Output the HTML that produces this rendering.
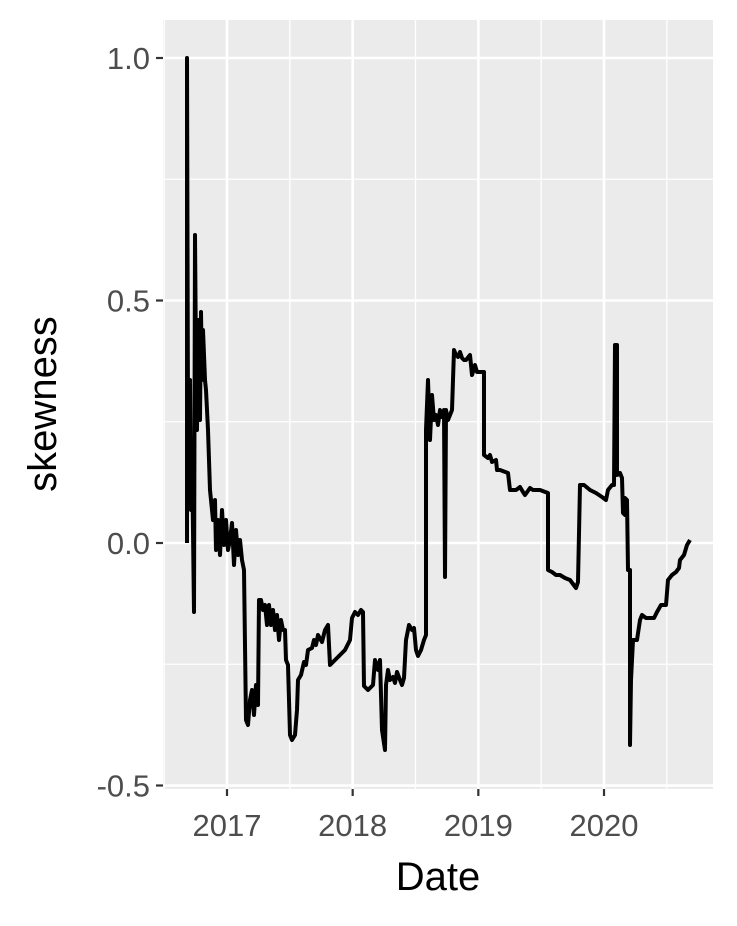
<!DOCTYPE html>
<html><head><meta charset="utf-8"><style>
body{margin:0;background:#fff;}
svg text{font-family:"Liberation Sans",Arial,sans-serif;}
</style></head><body>
<svg id="chart" width="737" height="921" viewBox="0 0 737 921" xmlns="http://www.w3.org/2000/svg">
<rect x="163" y="20" width="550" height="769" fill="#ebebeb"/>
<g id="grid"></g>
<g id="axes"></g>
<path id="line" fill="none" stroke="#000" stroke-width="4" stroke-linejoin="round"/>
<text x="438" y="890" font-size="40" text-anchor="middle" fill="#000">Date</text>
<text transform="translate(56,404) rotate(-90)" font-size="40" text-anchor="middle" fill="#000">skewness</text>
</svg>
<script>
const yTicks=[1.0,0.5,0.0,-0.5];
const yTickLabels=["1.0","0.5","0.0","-0.5"];
const xTicks=[2017,2018,2019,2020];
const xTickLabels=["2017","2018","2019","2020"];
const px=[187,187,188,189,190,191,192,194,195,196,197,198,199,200,201,202,203,205,206,208,210,211,213,215,216,218,220,222,224,226,228,230,232,234,236,238,240,242,244,246,248,250,252,254,256,258,259,261,263,265,267,269,271,273,275,277,279,281,283,285,286,288,290,292,295,297,298,301,304,306,308,312,314,316,318,322,325,328,330,335,340,345,350,352,355,358,361,363,364,368,370,373,375,378,380,382,385,386,388,390,393,395,397,400,402,404,406,409,412,414,416,418,421,424,426,426,428,430,432,434,436,438,440,442,444,445,446,448,450,452,454,456,458,460,462,464,466,470,472,475,477,484,484,488,490,492,496,497,500,508,510,516,520,523,525,530,533,540,548,548,552,556,560,565,570,576,578,580,584,590,596,602,606,608,612,614,615,617,617,620,622,623,625,625,627,628,630,630,631,633,637,640,642,646,654,657,661,666,668,672,676,679,680,684,687,690];
const py=[543,58,420,500,380,510,450,612,235,360,430,320,340,420,312,380,330,380,390,430,490,500,520,500,550,520,555,510,545,520,550,540,523,565,530,555,540,560,570,720,725,700,690,715,685,705,600,600,610,605,625,605,625,610,630,615,640,620,630,630,660,665,735,740,735,710,680,675,662,665,650,648,640,645,635,642,630,625,665,660,655,650,640,618,612,615,610,612,686,690,688,685,660,670,660,730,750,685,670,680,677,683,672,680,685,678,640,625,630,628,650,656,650,640,635,430,380,440,395,420,415,425,410,417,410,577,410,420,415,410,350,355,357,352,358,360,360,355,375,365,372,372,455,458,455,462,460,470,470,473,490,490,487,492,495,488,490,490,493,570,572,575,575,578,580,588,582,485,485,490,493,497,500,490,485,485,345,345,475,473,478,513,515,498,500,570,570,745,680,640,640,620,615,618,618,612,605,605,580,575,572,568,560,555,545,540];
const dates=px.map(x=>+(2017+(x-227)/125.67).toFixed(4));
const values=py.map(y=>+((543-y)/485).toFixed(4));
const X=d=>227+(d-2017)*125.67;
const Y=v=>543-v*485;
const ns="http://www.w3.org/2000/svg";
const grid=document.getElementById('grid'),axes=document.getElementById('axes');
function ln(g,x1,y1,x2,y2,c,w,name){const l=document.createElementNS(ns,'line');
l.setAttribute('x1',x1);l.setAttribute('y1',y1);l.setAttribute('x2',x2);l.setAttribute('y2',y2);
l.setAttribute('stroke',c);l.setAttribute('stroke-width',w);


g.appendChild(l);}
function tx(x,y,s,anchor,name){const t=document.createElementNS(ns,'text');
t.setAttribute('x',x);t.setAttribute('y',y);t.setAttribute('font-size','31');t.setAttribute('fill','#4d4d4d');t.setAttribute('text-anchor',anchor);t.textContent=s;


axes.appendChild(t);}
[0.75,0.25,-0.25].forEach(v=>ln(grid,163,Y(v),713,Y(v),'#fff',1.3,'minor-gridline-y'));
[2016.5,2017.5,2018.5,2019.5,2020.5].forEach(d=>ln(grid,X(d),20,X(d),789,'#fff',1.3,'minor-gridline-x'));
yTicks.forEach((v,i)=>{ln(grid,163,Y(v),713,Y(v),'#fff',2.6,'major-gridline-y');
ln(axes,156,Y(v),163,Y(v),'#333',2.2,'y-tick');tx(150,Y(v)+11,yTickLabels[i],'end','y-tick-label');});
xTicks.forEach((d,i)=>{ln(grid,X(d),20,X(d),789,'#fff',2.6,'major-gridline-x');
ln(axes,X(d),789,X(d),796,'#333',2.2,'x-tick');tx(X(d),836,xTickLabels[i],'middle','x-tick-label');});
document.getElementById('line').setAttribute('d',dates.map((d,i)=>(i?'L':'M')+X(d).toFixed(1)+','+Y(values[i]).toFixed(1)).join(''));
</script>
</body></html>
